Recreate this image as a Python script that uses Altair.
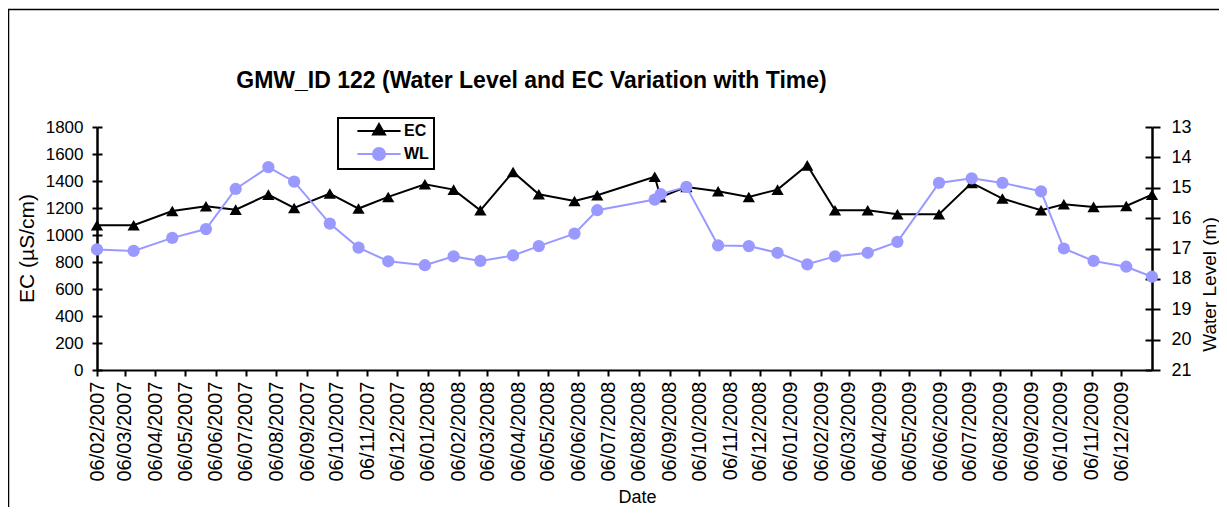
import altair as alt
import pandas as pd

FONT = "Liberation Sans"

# sampling dates (dd/mm/yyyy on the axis)
dates = ["2007-02-06", "2007-03-15", "2007-04-23", "2007-05-27", "2007-06-26",
         "2007-07-29", "2007-08-24", "2007-09-29", "2007-10-28", "2007-11-27",
         "2008-01-03", "2008-02-01", "2008-02-28", "2008-04-01", "2008-04-27",
         "2008-06-02", "2008-06-25", "2008-08-22", "2008-08-28", "2008-09-23",
         "2008-10-25", "2008-11-25", "2008-12-24", "2009-01-23", "2009-02-20",
         "2009-03-25", "2009-04-24", "2009-06-05", "2009-07-08", "2009-08-08",
         "2009-09-16", "2009-10-09", "2009-11-08", "2009-12-11", "2010-01-06"]

ec_values = [1072, 1072, 1178, 1213, 1188, 1299, 1200, 1307, 1196, 1282,
             1376, 1336, 1183, 1467, 1302, 1252, 1294, 1432, 1280, 1356,
             1324, 1282, 1336, 1516, 1183, 1183, 1154, 1154, 1386, 1270,
             1183, 1228, 1208, 1215, 1299]

wl_values = [17.03, 17.08, 16.65, 16.36, 15.04, 14.32, 14.80, 16.18, 16.97, 17.42,
             17.55, 17.26, 17.41, 17.23, 16.92, 16.51, 15.74, 15.39, 15.21, 14.97,
             16.90, 16.92, 17.14, 17.52, 17.26, 17.14, 16.78, 14.84, 14.69, 14.84,
             15.12, 17.00, 17.41, 17.60, 17.93]

tick_dates = ["2007-02-06", "2007-03-06", "2007-04-06", "2007-05-06", "2007-06-06",
              "2007-07-06", "2007-08-06", "2007-09-06", "2007-10-06", "2007-11-06",
              "2007-12-06", "2008-01-06", "2008-02-06", "2008-03-06", "2008-04-06",
              "2008-05-06", "2008-06-06", "2008-07-06", "2008-08-06", "2008-09-06",
              "2008-10-06", "2008-11-06", "2008-12-06", "2009-01-06", "2009-02-06",
              "2009-03-06", "2009-04-06", "2009-05-06", "2009-06-06", "2009-07-06",
              "2009-08-06", "2009-09-06", "2009-10-06", "2009-11-06", "2009-12-06"]

ec_ticks = [0, 200, 400, 600, 800, 1000, 1200, 1400, 1600, 1800]
wl_ticks = [13, 14, 15, 16, 17, 18, 19, 20, 21]
series_names = ["EC", "WL"]
series_colors = ["black", "#9999ff"]

# legend symbols: line with marker
ec_symbol = "M-3.6,0H3.6M0,-1.155L1,0.577L-1,0.577Z"
wl_symbol = "M-3.6,0H3.6M1,0A1,1,0,1,1,-1,0A1,1,0,1,1,1,0Z"


def dt(s):
    return alt.DateTime(year=int(s[:4]), month=int(s[5:7]), date=int(s[8:10]), utc=True)


W, H = 1055, 243

df = pd.DataFrame({"date": dates, "EC": ec_values, "WL": wl_values})
long_df = pd.DataFrame({
    "date": dates + dates,
    "value": ec_values + wl_values,
    "series": ["EC"] * len(dates) + ["WL"] * len(dates),
})

common = dict(labelFont=FONT, titleFont=FONT, labelColor="black", titleColor="black",
              tickColor="black", domainColor="black", grid=False)

x_enc = alt.X(
    "date:T",
    scale=alt.Scale(type="utc", domain=[dt(dates[0]), dt(dates[-1])]),
    axis=alt.Axis(values=[dt(s) for s in tick_dates],
                  labelExpr="utcFormat(datum.value, '%d/%m/%Y')",
                  labelAngle=270, labelAlign="right", labelBaseline="middle",
                  labelFontSize=20, labelPadding=5, labelOverlap=False, labelFlush=False,
                  tickSize=6, tickWidth=2, domainWidth=2,
                  title="Date", titleFontSize=18, titleFontWeight="normal",
                  titleX=540, titleY=127, titleAlign="center", titleBaseline="middle",
                  **common),
)

ec_scale = alt.Scale(domain=[0, 1800], nice=False, zero=True)
wl_scale = alt.Scale(domain=[13, 21], nice=False, zero=False, reverse=True)

ec_axis = alt.Axis(orient="left", values=ec_ticks, format="d", labelFontSize=17,
                   labelPadding=9, tickSize=5, tickWidth=2, domainWidth=2.5,
                   title="EC (µS/cm)", titleFontSize=21, titleFontWeight="normal",
                   titleAngle=270, titleX=-70, titleY=121, titleAlign="center",
                   titleBaseline="middle", **common)
ec_axis_in = alt.Axis(orient="left", values=ec_ticks, offset=-5, tickSize=5, tickWidth=2,
                      domain=False, labels=False, title=None, tickColor="black", grid=False)

wl_axis = alt.Axis(orient="right", values=wl_ticks, format="d", labelFontSize=18,
                   labelPadding=11, tickSize=8, tickWidth=2, domainWidth=2.5,
                   title="Water Level (m)", titleFontSize=19, titleFontWeight="normal",
                   titleAngle=270, titleX=57, titleY=157, titleAlign="center",
                   titleBaseline="middle", **common)
wl_axis_in = alt.Axis(orient="right", values=wl_ticks, offset=-7, tickSize=7, tickWidth=2,
                      domain=False, labels=False, title=None, tickColor="black", grid=False)

base = alt.Chart(df)

ec_line = base.mark_line(color="black", strokeWidth=2).encode(
    x=x_enc, y=alt.Y("EC:Q", scale=ec_scale, axis=ec_axis))
ec_pts = base.mark_point(shape="triangle-up", filled=True, size=150, color="black",
                         opacity=1).encode(
    x=x_enc, y=alt.Y("EC:Q", scale=ec_scale, axis=ec_axis_in))
ec_layer = alt.layer(ec_line, ec_pts).resolve_axis(y="independent")

wl_line = base.mark_line(color="#9999ff", strokeWidth=2).encode(
    x=x_enc, y=alt.Y("WL:Q", scale=wl_scale, axis=wl_axis))
wl_pts = base.mark_point(shape="circle", filled=True, size=150, color="#9999ff",
                         opacity=1).encode(
    x=x_enc, y=alt.Y("WL:Q", scale=wl_scale, axis=wl_axis_in))
wl_layer = alt.layer(wl_line, wl_pts).resolve_axis(y="independent")

legend = alt.Legend(title=None, orient="none", legendX=241, legendY=-9,
                    labelFont=FONT, labelFontSize=16, labelFontWeight="bold",
                    labelColor="black",
                    labelExpr="datum.label + '\u00a0\u00a0\u00a0\u00a0\u00a0'",
                    symbolSize=144, symbolStrokeWidth=2,
                    symbolOffset=28, labelOffset=17, padding=5, rowPadding=5,
                    strokeColor="black", fillColor="white", symbolOpacity=1)

legend_layer = alt.Chart(long_df).transform_filter("false").mark_point(
    filled=True, strokeWidth=2).encode(
    x=x_enc,
    y=alt.Y("value:Q", scale=ec_scale, axis=None),
    fill=alt.Fill("series:N", scale=alt.Scale(domain=series_names, range=series_colors),
                  legend=legend),
    stroke=alt.Stroke("series:N", scale=alt.Scale(domain=series_names, range=series_colors),
                      legend=legend),
    shape=alt.Shape("series:N", scale=alt.Scale(domain=series_names,
                                                 range=[ec_symbol, wl_symbol]),
                    legend=legend),
)

frame = alt.Chart(pd.DataFrame({"k": [0]})).mark_rect(
    fillOpacity=0, stroke="black", strokeWidth=1.5).encode(
    x=alt.value(-88.5), x2=alt.value(1400), y=alt.value(-117.5), y2=alt.value(700))

chart = alt.layer(frame, ec_layer, wl_layer, legend_layer).resolve_scale(
    y="independent"
).properties(
    width=W, height=H,
    autosize=alt.AutoSizeParams(type="none"),
    padding={"left": 89, "top": 119, "right": 67, "bottom": 137},
    title=alt.TitleParams(text="GMW_ID 122 (Water Level and EC Variation with Time)",
                          font=FONT, fontSize=23, fontWeight="bold", color="black",
                          anchor="middle", baseline="bottom", dx=-93, dy=107, offset=0),
).configure_view(stroke=None).configure_legend(strokeWidth=2)

chart.save("out.html", embed_options={"renderer": "svg", "actions": False})
